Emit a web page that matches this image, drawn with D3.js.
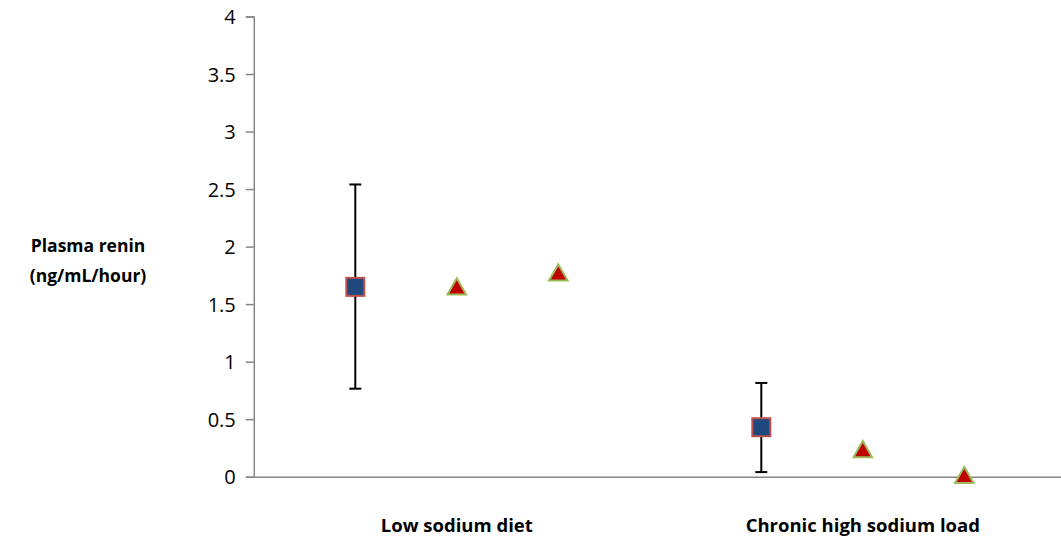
<!DOCTYPE html>
<html>
<head>
<meta charset="utf-8">
<script src="https://cdn.jsdelivr.net/npm/d3@7"></script>
<style>
  html, body { margin: 0; padding: 0; background: #fff; }
  svg { display: block; font-family: "Open Sans", "Noto Sans", sans-serif; }
</style>
</head>
<body>
<svg id="chart" width="1061" height="546"></svg>
<script>
// Plasma renin activity by dietary sodium condition
const categories = ["Low sodium diet", "Chronic high sodium load"];
const categoryX = [2, 6];

// Group mean with error bar (squares)
const meanX = [1, 5];
const meanValues = [1.65, 0.43];
const errorHigh = [2.54, 0.815];
const errorLow = [0.765, 0.04];

// Individual measurements (triangles)
const pointX = [2, 3, 6, 7];
const pointValues = [1.64, 1.76, 0.225, 0.0];

const yTicks = [0, 0.5, 1, 1.5, 2, 2.5, 3, 3.5, 4];
const yTitle = ["Plasma renin", "(ng/mL/hour)"];

const svg = d3.select("#chart");

const x = d3.scaleLinear().domain([0, 8]).range([253.8, 1065.8]);
const y = d3.scaleLinear().domain([0, 4]).range([476.7, 16.5]);

const axisColor = "#868686";

// Y axis
const yAxis = svg.append("g")
  .attr("transform", `translate(${x(0)},0)`)
  .call(d3.axisLeft(y).tickValues(yTicks).tickSize(8).tickPadding(10)
    .tickFormat(d => String(d)));
yAxis.attr("font-size", null).attr("font-family", null);
yAxis.select(".domain").attr("stroke", axisColor).attr("stroke-width", 1.5);
yAxis.selectAll(".tick line").attr("stroke", axisColor).attr("stroke-width", 1.5);
yAxis.selectAll(".tick text")
  .attr("fill", "#000")
  .attr("dy", "0.35em")
  .style("font-size", "20px");

// X axis baseline (no ticks)
const xAxis = svg.append("g")
  .attr("transform", `translate(0,${y(0)})`)
  .call(d3.axisBottom(x).tickValues([]).tickSizeOuter(0));
xAxis.select(".domain").attr("stroke", axisColor).attr("stroke-width", 1.5);

// Category labels
svg.append("g").selectAll("text")
  .data(categories)
  .join("text")
  .attr("x", (d, i) => x(categoryX[i]))
  .attr("y", 532)
  .attr("text-anchor", "middle")
  .style("font-size", "18.5px")
  .style("font-weight", "bold")
  .text(d => d);

// Y axis title
svg.append("g").selectAll("text")
  .data(yTitle)
  .join("text")
  .attr("x", 88)
  .attr("y", (d, i) => 252 + i * 30)
  .attr("text-anchor", "middle")
  .style("font-size", "17.5px")
  .style("font-weight", "bold")
  .text(d => d);

// Error bars
const eb = svg.append("g").attr("stroke", "#000").attr("stroke-width", 2);
meanX.forEach((mx, i) => {
  eb.append("line")
    .attr("x1", x(mx)).attr("x2", x(mx))
    .attr("y1", y(errorHigh[i])).attr("y2", y(errorLow[i]));
  [errorHigh[i], errorLow[i]].forEach(v => {
    eb.append("line")
      .attr("x1", x(mx) - 6).attr("x2", x(mx) + 6)
      .attr("y1", y(v)).attr("y2", y(v));
  });
});

// Mean markers (squares)
const sq = 18;
svg.append("g").selectAll("rect")
  .data(meanValues)
  .join("rect")
  .attr("x", (d, i) => x(meanX[i]) - sq / 2)
  .attr("y", d => y(d) - sq / 2)
  .attr("width", sq)
  .attr("height", sq)
  .attr("fill", "#1F497D")
  .attr("stroke", "#C0504D")
  .attr("stroke-width", 2);

// Individual markers (triangles)
const tri = d3.symbol().type(d3.symbolTriangle).size(150);
svg.append("g").selectAll("path")
  .data(pointValues)
  .join("path")
  .attr("transform", (d, i) => `translate(${x(pointX[i])},${y(d) + 1})`)
  .attr("d", tri)
  .attr("fill", "#C00000")
  .attr("stroke", "#9BBB59")
  .attr("stroke-width", 2)
  .attr("stroke-linejoin", "miter");
</script>
</body>
</html>
